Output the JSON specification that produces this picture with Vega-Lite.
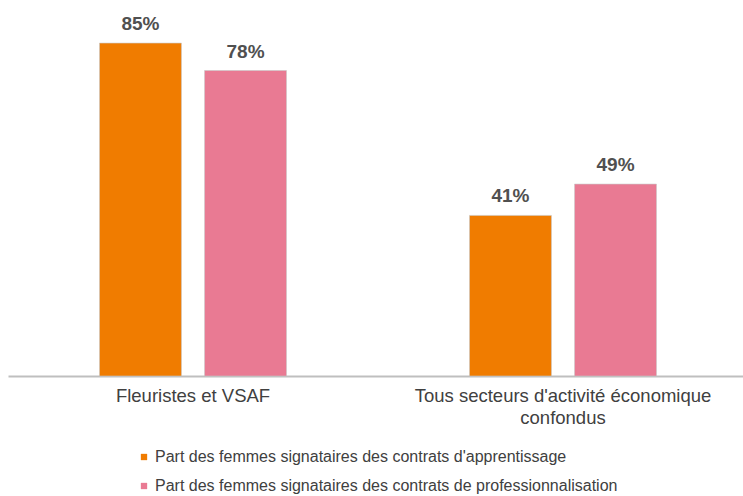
{
  "$schema": "https://vega.github.io/schema/vega-lite/v6.json",
  "width": 740,
  "height": 376,
  "padding": {"left": 8, "top": 0, "right": 0, "bottom": 0},
  "background": "white",
  "config": {"view": {"stroke": null}, "font": "Liberation Sans"},
  "data": {
    "values": [
      {"secteur": "Fleuristes et VSAF", "serie": "Part des femmes signataires des contrats d'apprentissage", "valeur": 85, "etiquette": "85%"},
      {"secteur": "Fleuristes et VSAF", "serie": "Part des femmes signataires des contrats de professionnalisation", "valeur": 78, "etiquette": "78%"},
      {"secteur": "Tous secteurs d'activité économique|confondus", "serie": "Part des femmes signataires des contrats d'apprentissage", "valeur": 41, "etiquette": "41%"},
      {"secteur": "Tous secteurs d'activité économique|confondus", "serie": "Part des femmes signataires des contrats de professionnalisation", "valeur": 49, "etiquette": "49%"}
    ]
  },
  "encoding": {
    "x": {
      "field": "secteur", "type": "nominal", "sort": null,
      "scale": {"paddingInner": 0, "paddingOuter": 0},
      "axis": {
        "title": null, "labelAngle": 0, "ticks": false, "domainColor": "#BFBFBF", "domainWidth": 2,
        "labelFontSize": 18.5, "labelColor": "#404040", "labelPadding": 10, "labelLineHeight": 22,
        "labelLimit": 500,
        "labelExpr": "split(datum.value, '|')"
      }
    },
    "xOffset": {"field": "serie", "type": "nominal", "scale": {"paddingInner": 0.22, "paddingOuter": 0.871}},
    "y": {"field": "valeur", "type": "quantitative", "scale": {"domain": [0, 96], "nice": false}, "axis": null}
  },
  "layer": [
    {
      "mark": {"type": "bar", "stroke": "#C8C8C8", "strokeWidth": 0.6},
      "encoding": {
        "color": {
          "field": "serie", "type": "nominal",
          "scale": {"range": ["#F07C00", "#E97A93"]},
          "legend": {
            "title": null, "orient": "none", "legendX": 128, "legendY": 449, "direction": "vertical",
            "symbolType": "square", "symbolSize": 40, "symbolStrokeWidth": 0,
            "labelFontSize": 16, "labelColor": "#404040", "rowPadding": 13, "labelOffset": 3, "labelLimit": 700
          }
        }
      }
    },
    {
      "mark": {"type": "text", "baseline": "bottom", "dy": -9, "fontSize": 19, "fontWeight": "bold", "color": "#505050"},
      "encoding": {"text": {"field": "etiquette", "type": "nominal"}, "detail": {"field": "serie"}}
    }
  ]
}
